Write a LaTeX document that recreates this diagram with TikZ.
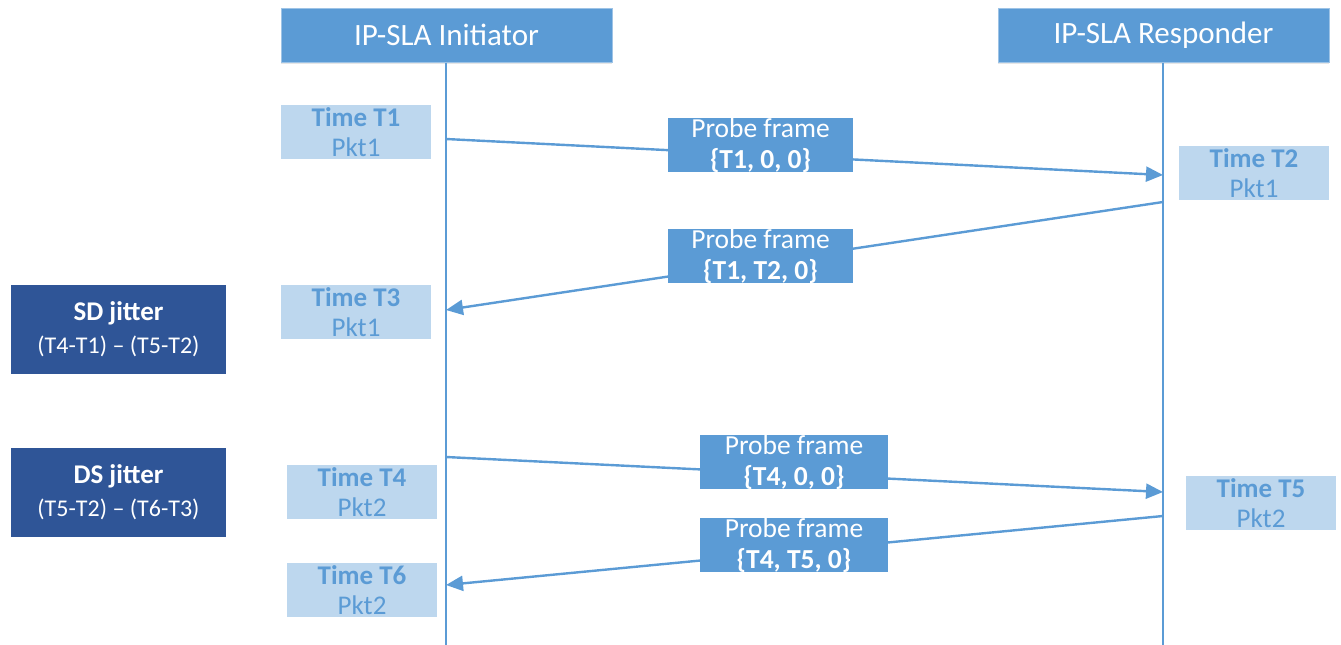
\documentclass[tikz,border=0pt]{standalone}
\usepackage{fontspec}
\setmainfont{Carlito}
\usetikzlibrary{arrows.meta,shadows}
\definecolor{lblue}{HTML}{5B9BD5}
\definecolor{pale}{HTML}{BDD7EE}
\definecolor{dblue}{HTML}{2F5597}
\begin{document}
\begin{tikzpicture}[x=1pt,y=-1pt,
 hdr/.style={fill=lblue, draw=lblue!60!white, line width=1pt, minimum width=331pt, minimum height=54pt, inner sep=0pt, text=white, font=\fontsize{31}{36}\selectfont, drop shadow={shadow xshift=0pt, shadow yshift=-2pt, opacity=0.2}},
 timebox/.style={fill=pale, minimum width=150pt, minimum height=54pt, inner sep=0pt, text=lblue, align=center, font=\fontsize{27}{30}\selectfont},
 probe/.style={fill=lblue, minimum height=54pt, inner sep=0pt, text=white, align=center, font=\fontsize{27.5}{31}\selectfont},
 jit/.style={fill=dblue, minimum width=215pt, minimum height=89pt, inner sep=0pt, text=white, align=center, font=\fontsize{24}{33}\selectfont},
 msg/.style={draw=lblue, line width=2.4pt, -{Triangle[length=17pt,width=15pt]}},
 life/.style={draw=lblue, line width=2pt}]
\useasboundingbox (0,0) rectangle (1341,645);

% headers
\node[hdr] (ini) at (446.5,35) {IP-SLA Initiator};
\node[hdr] (res) at (1163.5,35) {IP-SLA Responder};

% lifelines
\coordinate (iend) at (446,645);
\coordinate (rend) at (1163,645);
\draw[life] (ini.south -| iend) -- (iend);
\draw[life] (res.south -| rend) -- (rend);

% message points on lifelines
\coordinate (i1) at (446,139);
\coordinate (r1) at (1163,175);
\coordinate (r2) at (1163,202);
\coordinate (i2) at (446,310);
\coordinate (i3) at (446,457);
\coordinate (r3) at (1163,492);
\coordinate (r4) at (1163,516);
\coordinate (i4) at (446,585);

% messages
\draw[msg] (i1) -- (r1);
\draw[msg] (r2) -- (i2);
\draw[msg] (i3) -- (r3);
\draw[msg] (r4) -- (i4);

% probe frames
\node[probe, minimum width=185pt] (p1) at (760.5,145) {Probe frame\\\textbf{\{T1, 0, 0\}}};
\node[probe, minimum width=185pt] (p2) at (760.5,256) {Probe frame\\\textbf{\{T1, T2, 0\}}};
\node[probe, minimum width=188pt] (p3) at (794,462) {Probe frame\\\textbf{\{T4, 0, 0\}}};
\node[probe, minimum width=188pt] (p4) at (794,545) {Probe frame\\\textbf{\{T4, T5, 0\}}};

% time boxes
\node[timebox] (t1) at (356,132) {\textbf{Time T1}\\Pkt1};
\node[timebox] (t2) at (1254,173) {\textbf{Time T2}\\Pkt1};
\node[timebox] (t3) at (356,312) {\textbf{Time T3}\\Pkt1};
\node[timebox] (t4) at (362,492) {\textbf{Time T4}\\Pkt2};
\node[timebox] (t5) at (1261,503) {\textbf{Time T5}\\Pkt2};
\node[timebox] (t6) at (362,590) {\textbf{Time T6}\\Pkt2};

% jitter boxes
\node[jit] (sd) at (118.5,329.5) {{\fontsize{27}{33}\selectfont\textbf{SD jitter}}\\(T4-T1) – (T5-T2)};
\node[jit] (ds) at (118.5,492.5) {{\fontsize{27}{33}\selectfont\textbf{DS jitter}}\\(T5-T2) – (T6-T3)};
\end{tikzpicture}
\end{document}
